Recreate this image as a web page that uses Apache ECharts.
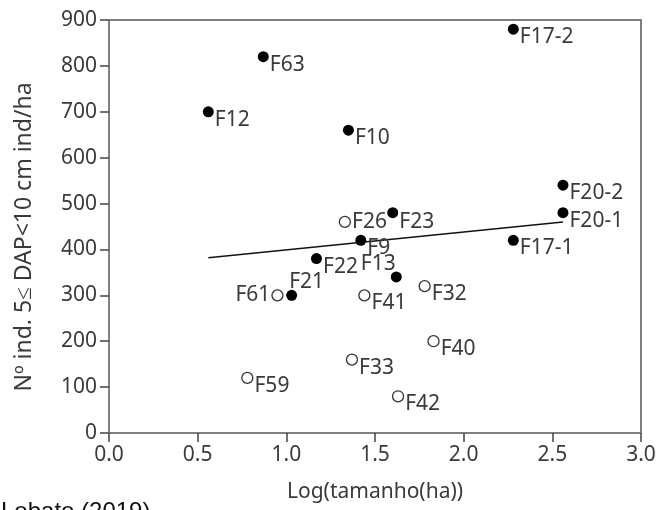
<!DOCTYPE html>
<html>
<head>
<meta charset="utf-8">
<style>
  html, body { margin: 0; padding: 0; background: #fff; }
  #chart { width: 659px; height: 510px; }
</style>
<script src="https://cdn.jsdelivr.net/npm/echarts@6/dist/echarts.min.js"></script>
</head>
<body>
<div id="chart"></div>
<script>
// filled markers
const filledNames = ["F17-2", "F63", "F12", "F10", "F20-2", "F20-1", "F17-1", "F23", "F9", "F22", "F13", "F21"];
const filledX = [2.28, 0.87, 0.56, 1.35, 2.56, 2.56, 2.28, 1.6, 1.42, 1.17, 1.62, 1.03];
const filledY = [880, 820, 700, 660, 540, 480, 420, 480, 420, 380, 340, 300];

// open markers
const openNames = ["F26", "F61", "F41", "F32", "F40", "F33", "F42", "F59"];
const openX = [1.33, 0.95, 1.44, 1.78, 1.83, 1.37, 1.63, 0.78];
const openY = [460, 300, 300, 320, 200, 160, 80, 120];

// regression line ends
const trendX = [0.56, 2.56];
const trendY = [382, 460];

const xTicks = [0, 0.5, 1, 1.5, 2, 2.5, 3];
const yTicks = [0, 100, 200, 300, 400, 500, 600, 700, 800, 900];

const FONT = "Noto Sans";
const TXT = "#3a3a3a";
const AXIS = "#7f7f7f";

// label placement per point (default: right, a bit below)
const labelPos = {
  F13: { position: "left", offset: [6, -13] },
  F21: { position: "right", offset: [-9, -13] },
  F26: { position: "right", offset: [0, 0] },
  F61: { position: "left", offset: [0, 0] },
  F23: { position: "right", offset: [0, 9] },
};

function points(names, xs, ys) {
  return names.map((n, i) => {
    const p = labelPos[n] || { position: "right", offset: [0, 8] };
    return {
      name: n,
      value: [xs[i], ys[i]],
      label: { position: p.position, offset: p.offset },
    };
  });
}

const chart = echarts.init(document.getElementById("chart"));

const labelStyle = {
  show: true,
  formatter: "{b}",
  distance: 1,
  color: TXT,
  fontFamily: FONT,
  fontSize: 21,
};

chart.setOption({
  animation: false,
  grid: {
    left: 109, right: 18, top: 20, bottom: 77,
    show: true, borderColor: AXIS, borderWidth: 2,
  },
  xAxis: {
    type: "value",
    min: xTicks[0],
    max: xTicks[xTicks.length - 1],
    interval: 0.5,
    name: "Log(tamanho(ha))",
    nameLocation: "middle",
    nameGap: 49,
    nameTextStyle: { color: TXT, fontFamily: FONT, fontSize: 21 },
    axisLine: { lineStyle: { color: AXIS, width: 2 } },
    axisTick: { length: 9, lineStyle: { color: "#444", width: 1.5 } },
    axisLabel: {
      color: TXT, fontFamily: FONT, fontSize: 21, margin: 12,
      formatter: (v) => v.toFixed(1),
    },
    splitLine: { show: false },
  },
  yAxis: {
    type: "value",
    min: yTicks[0],
    max: yTicks[yTicks.length - 1],
    interval: 100,
    axisLine: { show: true, lineStyle: { color: AXIS, width: 2 } },
    axisTick: { show: true, length: 9, lineStyle: { color: "#444", width: 1.5 } },
    axisLabel: { color: TXT, fontFamily: FONT, fontSize: 21, margin: 12 },
    splitLine: { show: false },
  },
  graphic: [
    {
      type: "text",
      x: 24,
      y: 237,
      rotation: Math.PI / 2,
      style: {
        text: "Nº ind. 5≤ DAP<10 cm ind/ha",
        fill: TXT,
        fontFamily: FONT,
        fontSize: 23,
        align: "center",
        verticalAlign: "middle",
      },
    },
    {
      type: "text",
      x: 1,
      y: 512,
      style: {
        text: "Lobato (2019)",
        fill: "#111",
        fontFamily: "Liberation Sans",
        fontSize: 24,
        align: "left",
        verticalAlign: "middle",
      },
    },
  ],
  series: [
    {
      type: "line",
      data: trendX.map((x, i) => [x, trendY[i]]),
      symbol: "none",
      lineStyle: { color: "#111", width: 1.5 },
      z: 1,
    },
    {
      type: "scatter",
      data: points(filledNames, filledX, filledY),
      symbolSize: 11,
      itemStyle: { color: "#000", opacity: 1 },
      label: labelStyle,
      z: 3,
    },
    {
      type: "scatter",
      data: points(openNames, openX, openY),
      symbolSize: 11,
      itemStyle: { color: "#fff", borderColor: "#333", borderWidth: 1.3, opacity: 1 },
      label: labelStyle,
      z: 3,
    },
  ],
});
</script>
</body>
</html>
